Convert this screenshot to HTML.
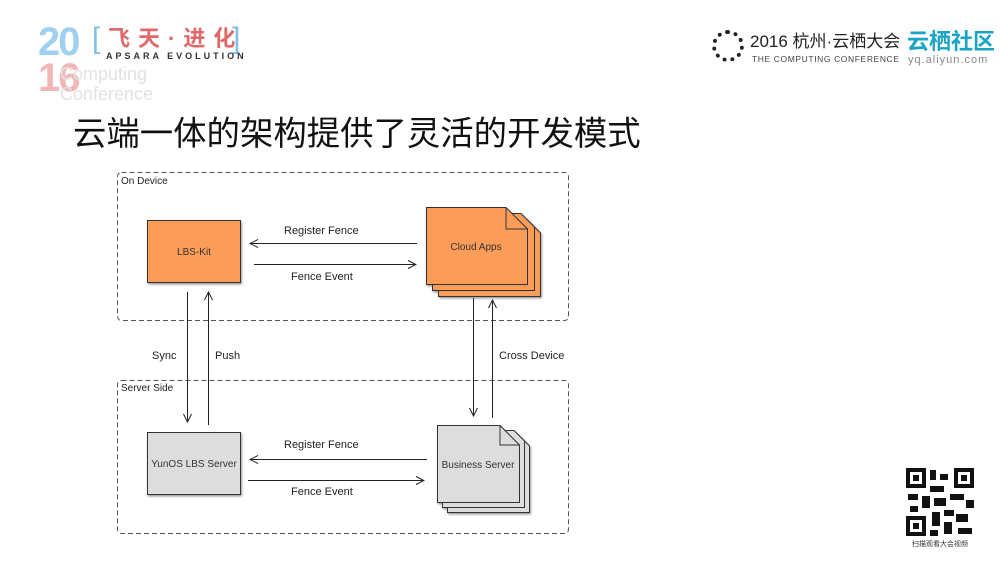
<!DOCTYPE html>
<html><head><meta charset="utf-8"><style>
body{margin:0;width:1000px;height:563px;background:#fff;overflow:hidden;position:relative;font-family:"Liberation Sans","Noto Sans CJK SC",sans-serif}
.a{position:absolute;white-space:nowrap}
</style></head><body>
<div class="a" style="left:38px;top:22px;font-size:40px;font-weight:bold;color:#9fd0ef;line-height:40px;letter-spacing:-2px">20</div>
<div class="a" style="left:38px;top:58px;font-size:40px;font-weight:bold;color:#f3b6b6;line-height:40px;letter-spacing:-2px">16</div>
<div class="a" style="left:60px;top:64px;font-size:18px;color:#e2e2e2;line-height:20px">Computing<br>Conference</div>
<div class="a" style="left:92px;top:24px;font-size:30px;color:#7fbfe6;line-height:30px">[</div>
<div class="a" style="left:232px;top:24px;font-size:30px;color:#7fbfe6;line-height:30px">]</div>
<div class="a" style="left:108px;top:27px;font-size:22px;font-weight:bold;color:#e06a6a;line-height:24px;letter-spacing:8px">飞天·进化</div>
<div class="a" style="left:106px;top:51px;font-size:9px;font-weight:bold;color:#333;letter-spacing:3px">APSARA EVOLUTION</div>
<div class="a" style="left:712px;top:30px;width:32px;height:32px;border-radius:50%;border:4px dotted #222;box-sizing:border-box"></div>
<div class="a" style="left:750px;top:32px;font-size:17px;color:#222;line-height:20px">2016 杭州·云栖大会</div>
<div class="a" style="left:752px;top:54px;font-size:8.5px;color:#444;letter-spacing:0.6px">THE COMPUTING CONFERENCE</div>
<div class="a" style="left:907px;top:30px;font-size:22px;color:#1aa4c8;font-weight:bold;line-height:24px">云栖社区</div>
<div class="a" style="left:908px;top:54px;font-size:11px;color:#888;letter-spacing:1px">yq.aliyun.com</div>
<div class="a" style="left:73px;top:115px;font-size:33.4px;color:#111;line-height:40px">云端一体的架构提供了灵活的开发模式</div>
<svg class="a" style="left:0;top:0" width="1000" height="563">
<defs><marker id="m" markerWidth="10" markerHeight="10" refX="9" refY="5" orient="auto" markerUnits="userSpaceOnUse"><path d="M1,1 L9,5 L1,9" fill="none" stroke="#222" stroke-width="1"/></marker>
<filter id="s"><feDropShadow dx="1" dy="1.5" stdDeviation="1" flood-opacity="0.4"/></filter></defs>
<g fill="none" stroke="#555" stroke-dasharray="5,3">
<rect x="117.5" y="172.5" width="451" height="148" rx="4"/>
<rect x="117.5" y="380.5" width="451" height="153" rx="4"/>
</g>
<g font-size="10" fill="#222"><text x="121" y="184">On Device</text><text x="121" y="391">Server Side</text></g>
<rect x="147.5" y="220.5" width="93" height="62" fill="#fb9d59" stroke="#333" filter="url(#s)"/>
<rect x="147.5" y="432.5" width="93" height="62" fill="#ddd" stroke="#333" filter="url(#s)"/>
<g stroke="#333" fill="#fb9d59" filter="url(#s)">
<path d="M438.5,219.5 H527 L540.5,233 V296.5 H438.5Z"/>
<path d="M432.5,213.5 H521 L534.5,227 V290.5 H432.5Z"/>
<path d="M426.5,207.5 H506 L527.5,229 V284.5 H426.5Z"/>
</g>
<path d="M506,207.5 V229 H527.5" fill="none" stroke="#333"/>
<g stroke="#333" fill="#ddd" filter="url(#s)">
<path d="M447.5,435.5 H519 L529.5,446 V512.5 H447.5Z"/>
<path d="M442.5,430.5 H514 L524.5,441 V507.5 H442.5Z"/>
<path d="M437.5,425.5 H500 L519.5,445 V502.5 H437.5Z"/>
</g>
<path d="M500,425.5 V445 H519.5" fill="none" stroke="#333"/>
<g stroke="#222" fill="none" marker-end="url(#m)">
<line x1="417" y1="243.5" x2="250" y2="243.5"/>
<line x1="254" y1="264.5" x2="416" y2="264.5"/>
<line x1="187.5" y1="292" x2="187.5" y2="422"/>
<line x1="208.5" y1="425" x2="208.5" y2="292"/>
<line x1="473.5" y1="298" x2="473.5" y2="416"/>
<line x1="492.5" y1="418" x2="492.5" y2="300"/>
<line x1="427" y1="459.5" x2="250" y2="459.5"/>
<line x1="248" y1="480.5" x2="424" y2="480.5"/>
</g>
<g font-size="11" fill="#222">
<text x="284" y="234">Register Fence</text>
<text x="291" y="280">Fence Event</text>
<text x="284" y="448">Register Fence</text>
<text x="291" y="495">Fence Event</text>
<text x="152" y="359">Sync</text>
<text x="215" y="359">Push</text>
<text x="499" y="359">Cross Device</text>
</g>
<g font-size="10" fill="#333" text-anchor="middle">
<text x="194" y="255">LBS-Kit</text>
<text x="194" y="467">YunOS LBS Server</text>
<text x="476" y="250">Cloud Apps</text>
<text x="478" y="468">Business Server</text>
</g>
<g fill="#111">
<rect x="906" y="468" width="68" height="68" fill="#fff"/>
<rect x="906" y="468" width="20" height="20"/><rect x="910" y="472" width="12" height="12" fill="#fff"/><rect x="913" y="475" width="6" height="6"/>
<rect x="954" y="468" width="20" height="20"/><rect x="958" y="472" width="12" height="12" fill="#fff"/><rect x="961" y="475" width="6" height="6"/>
<rect x="906" y="516" width="20" height="20"/><rect x="910" y="520" width="12" height="12" fill="#fff"/><rect x="913" y="523" width="6" height="6"/>
<rect x="930" y="470" width="6" height="10"/><rect x="940" y="474" width="8" height="6"/><rect x="930" y="486" width="14" height="6"/>
<rect x="908" y="494" width="10" height="6"/><rect x="922" y="496" width="8" height="12"/><rect x="934" y="498" width="12" height="8"/>
<rect x="950" y="494" width="14" height="6"/><rect x="966" y="500" width="8" height="8"/><rect x="910" y="506" width="8" height="6"/>
<rect x="932" y="512" width="8" height="14"/><rect x="944" y="510" width="10" height="6"/><rect x="956" y="514" width="12" height="8"/>
<rect x="944" y="522" width="8" height="12"/><rect x="958" y="528" width="14" height="6"/><rect x="930" y="530" width="8" height="6"/>
</g>
<text x="940" y="546" font-size="7" fill="#333" text-anchor="middle">扫描观看大会视频</text>
</svg>
</body></html>
